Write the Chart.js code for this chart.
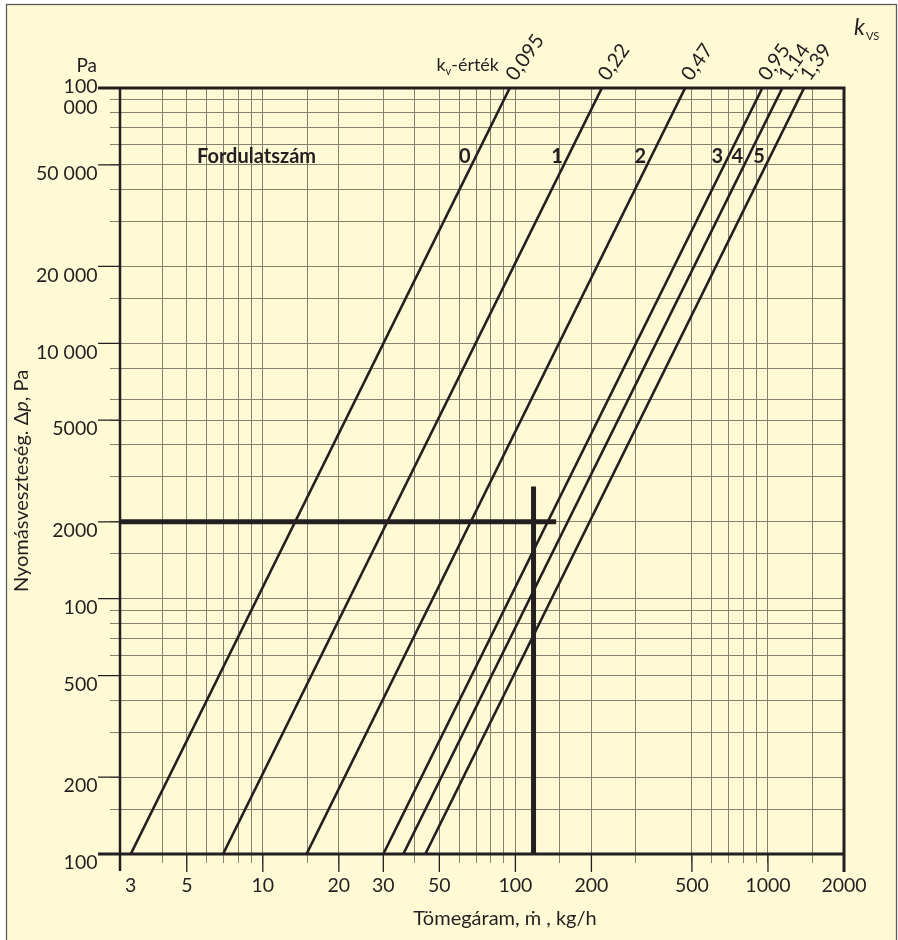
<!DOCTYPE html>
<html>
<head>
<meta charset="utf-8">
<script src="https://cdn.jsdelivr.net/npm/chart.js@4/dist/chart.umd.min.js"></script>
<style>
  html, body { margin: 0; padding: 0; background: #ffffff; }
  #wrap { width: 898px; height: 940px; position: relative; }
</style>
</head>
<body>
<div id="wrap"><canvas id="chart" width="898" height="940"></canvas></div>
<script>
// Valve characteristic lines: kvs value and the mass flow (kg/h) at both ends of the pressure range
const kvLabels = ['0,095', '0,22', '0,47', '0,95', '1,14', '1,39'];
const speedLabels = ['0', '1', '2', '3', '4', '5'];
const flowAtMinPressure = [3.0, 6.96, 14.9, 30.0, 36.0, 44.0];
const flowAtMaxPressure = [95, 220, 470, 950, 1140, 1390];
const pressureRange = [100, 100000];
const flowRange = [2.72, 2000];

// Reading example: 2000 Pa pressure drop, ~118 kg/h mass flow
const examplePressure = 2000;
const examplePressureLineEnd = 145;
const exampleFlow = 118;
const exampleFlowLineTop = 2750;

// Axis grid and tick labels
const xGridValues = [4, 5, 6, 7, 8, 9, 10, 15, 20, 30, 40, 50, 60, 70, 80, 90, 100, 150, 200, 300, 500, 600, 700, 800, 900, 1000, 1500, 2000];
const xTickValues = [3, 5, 10, 20, 30, 50, 100, 200, 500, 1000, 2000];
const xTickLabels = ['3', '5', '10', '20', '30', '50', '100', '200', '500', '1000', '2000'];
const yGridValues = [100, 150, 200, 300, 400, 500, 600, 700, 800, 900, 1000, 1500, 2000, 3000, 4000, 5000, 6000, 8000, 10000, 15000, 20000, 30000, 40000, 50000, 60000, 70000, 80000, 90000, 100000];
const yTickValues = [100, 200, 500, 1000, 2000, 5000, 10000, 20000, 50000, 100000];
const yTickLabels = ['100', '200', '500', '100', '2000', '5000', '10 000', '20 000', '50 000', ['100', '000']];

const INK = '#231f20';
const PAPER = '#fffad6';
const GRID = '#86806f';
const FONT = "Lato, 'DejaVu Sans', sans-serif";

const xAllTicks = Array.from(new Set([...xGridValues, ...xTickValues])).sort((a, b) => a - b);
const yAllTicks = Array.from(new Set([...yGridValues, ...yTickValues])).sort((a, b) => a - b);

const lineStyle = { borderColor: INK, backgroundColor: INK, pointRadius: 0, tension: 0, fill: false, borderCapStyle: 'butt', showLine: true };

const datasets = kvLabels.map((kv, i) => ({
  label: 'kvs ' + kv,
  data: [{ x: flowAtMinPressure[i], y: pressureRange[0] }, { x: flowAtMaxPressure[i], y: pressureRange[1] }],
  borderWidth: 2.6,
  ...lineStyle
}));
datasets.push({
  label: 'Δp',
  data: [{ x: flowRange[0], y: examplePressure }, { x: examplePressureLineEnd, y: examplePressure }],
  borderWidth: 5,
  ...lineStyle
});
datasets.push({
  label: 'ṁ',
  data: [{ x: exampleFlow, y: exampleFlowLineTop }, { x: exampleFlow, y: pressureRange[0] }],
  borderWidth: 5,
  ...lineStyle
});

// Cream sheet with thin outline
const paper = {
  id: 'paper',
  beforeDraw(chart) {
    const { ctx, width, height } = chart;
    ctx.save();
    ctx.fillStyle = '#ffffff';
    ctx.fillRect(0, 0, width, height);
    ctx.fillStyle = PAPER;
    ctx.fillRect(6, 4, width - 7, height);
    ctx.strokeStyle = '#5c5c5c';
    ctx.lineWidth = 1.3;
    ctx.strokeRect(6.5, 4.5, width - 8, height + 10);
    ctx.restore();
  }
};

// Frame, long ticks and all text around the plot
const annotate = {
  id: 'annotate',
  afterDraw(chart) {
    const { ctx, chartArea: a, scales: { x, y } } = chart;
    ctx.save();
    ctx.strokeStyle = INK;
    ctx.fillStyle = INK;

    // long ticks at labelled values
    ctx.lineWidth = 1.3;
    ctx.beginPath();
    xTickValues.forEach(v => {
      const px = x.getPixelForValue(v);
      if (px > a.left + 12 && px < a.right - 2) { ctx.moveTo(px, a.bottom); ctx.lineTo(px, a.bottom + 18); }
    });
    yTickValues.forEach(v => {
      const py = y.getPixelForValue(v);
      ctx.moveTo(98, py); ctx.lineTo(a.left, py);
    });
    ctx.stroke();

    // frame
    ctx.lineWidth = 3;
    ctx.beginPath();
    ctx.moveTo(98, a.top); ctx.lineTo(a.right, a.top);
    ctx.moveTo(a.right, a.top - 1.5); ctx.lineTo(a.right, a.bottom + 18);
    ctx.moveTo(98, a.bottom); ctx.lineTo(a.right, a.bottom);
    ctx.stroke();
    ctx.lineWidth = 2.5;
    ctx.beginPath();
    ctx.moveTo(a.left, a.top); ctx.lineTo(a.left, a.bottom + 17);
    ctx.stroke();

    // kvs values at the top end of each line
    ctx.font = '20px ' + FONT;
    ctx.textAlign = 'left';
    ctx.textBaseline = 'alphabetic';
    kvLabels.forEach((t, i) => {
      const px = x.getPixelForValue(flowAtMaxPressure[i]);
      ctx.save();
      ctx.translate(px + 6, a.top - 6);
      ctx.rotate(-55 * Math.PI / 180);
      ctx.fillText(t, 0, 0);
      ctx.restore();
    });

    // speed step numbers beside each line
    const speedY = 157;
    ctx.font = 'bold 20px ' + FONT;
    ctx.textAlign = 'right';
    ctx.textBaseline = 'middle';
    speedLabels.forEach((t, i) => {
      const x0 = x.getPixelForValue(flowAtMinPressure[i]);
      const x1 = x.getPixelForValue(flowAtMaxPressure[i]);
      const y0 = y.getPixelForValue(pressureRange[0]);
      const y1 = y.getPixelForValue(pressureRange[1]);
      const px = x0 + (x1 - x0) * (y0 - speedY) / (y0 - y1);
      ctx.fillText(t, px - 5, speedY);
    });
    ctx.textAlign = 'left';
    ctx.fillText('Fordulatszám', 197, speedY);

    // unit and header texts
    ctx.textBaseline = 'alphabetic';
    ctx.font = '19px ' + FONT;
    ctx.textAlign = 'right';
    ctx.fillText('Pa', 97, 72);

    // "kv-érték", ending just left of the first kvs value
    ctx.textAlign = 'left';
    const headParts = [['k', '18px ' + FONT, 0], ['v', '11px ' + FONT, 4], ['-érték', '18px ' + FONT, 0]];
    let headW = 0;
    headParts.forEach(p => { ctx.font = p[1]; headW += ctx.measureText(p[0]).width; });
    let cx = 499 - headW;
    headParts.forEach(p => { ctx.font = p[1]; ctx.fillText(p[0], cx, 71 + p[2]); cx += ctx.measureText(p[0]).width; });

    ctx.font = 'italic 23px ' + FONT;
    ctx.fillText('k', 854, 35);
    ctx.font = '11px ' + FONT;
    ctx.fillText('VS', 866, 40);

    // x axis title
    ctx.font = '20px ' + FONT;
    ctx.textAlign = 'center';
    ctx.textBaseline = 'middle';
    ctx.fillText('Tömegáram, ṁ , kg/h', 505, 919);

    // y axis title, rotated, with italic p
    ctx.save();
    ctx.translate(22, 481);
    ctx.rotate(-Math.PI / 2);
    const parts = [['Nyomásveszteség. Δ', '20px ' + FONT], ['p', 'italic 20px ' + FONT], [', Pa', '20px ' + FONT]];
    let total = 0;
    parts.forEach(p => { ctx.font = p[1]; total += ctx.measureText(p[0]).width; });
    let tx = -total / 2;
    ctx.textAlign = 'left';
    parts.forEach(p => { ctx.font = p[1]; ctx.fillText(p[0], tx, 0); tx += ctx.measureText(p[0]).width; });
    ctx.restore();

    ctx.restore();
  }
};

new Chart(document.getElementById('chart'), {
  type: 'line',
  data: { datasets },
  plugins: [paper, annotate],
  options: {
    responsive: false,
    animation: false,
    events: [],
    layout: { padding: { top: 88, right: 54, left: 0, bottom: 0 } },
    plugins: { legend: { display: false }, tooltip: { enabled: false }, title: { display: false } },
    scales: {
      x: {
        type: 'logarithmic',
        min: flowRange[0],
        max: flowRange[1],
        afterBuildTicks: s => { s.ticks = xAllTicks.map(v => ({ value: v })); },
        afterFit: s => { s.height = 86; },
        border: { display: false },
        grid: {
          color: c => (c.tick && xGridValues.includes(c.tick.value)) ? GRID : 'rgba(0,0,0,0)',
          lineWidth: 1,
          tickLength: 9,
          drawTicks: true
        },
        ticks: {
          autoSkip: false,
          maxRotation: 0,
          minRotation: 0,
          padding: 11,
          color: INK,
          font: { family: FONT, size: 19.5 },
          callback: v => { const k = xTickValues.indexOf(v); return k >= 0 ? xTickLabels[k] : ''; }
        }
      },
      y: {
        type: 'logarithmic',
        min: pressureRange[0],
        max: pressureRange[1],
        afterBuildTicks: s => { s.ticks = yAllTicks.map(v => ({ value: v })); },
        afterFit: s => { s.width = 120; },
        border: { display: false },
        grid: {
          color: c => (c.tick && yGridValues.includes(c.tick.value)) ? GRID : 'rgba(0,0,0,0)',
          lineWidth: 1,
          tickLength: 10,
          drawTicks: true
        },
        ticks: {
          autoSkip: false,
          padding: 12.5,
          labelOffset: 9,
          color: INK,
          font: { family: FONT, size: 19.5, lineHeight: 1.05 },
          callback: v => { const k = yTickValues.indexOf(v); return k >= 0 ? yTickLabels[k] : ''; }
        }
      }
    }
  }
});
</script>
</body>
</html>
